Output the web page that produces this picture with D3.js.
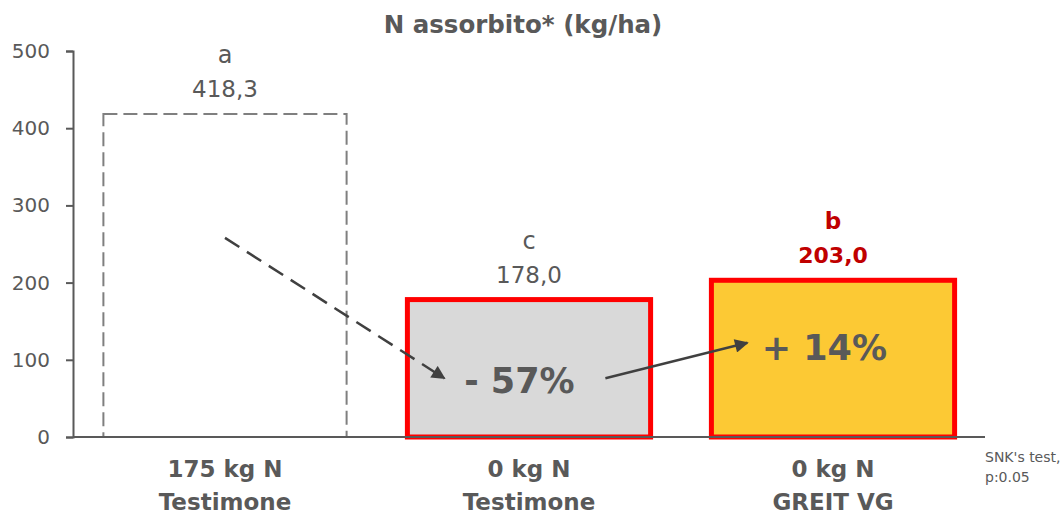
<!DOCTYPE html>
<html>
<head>
<meta charset="utf-8">
<script src="https://cdn.jsdelivr.net/npm/d3@7"></script>
<style>
  body { margin: 0; background: #fff; overflow: hidden; }
  text { font-family: "DejaVu Sans", sans-serif; }
</style>
</head>
<body>
<div id="chart"></div>
<script>
const categories = ["175 kg N|Testimone", "0 kg N|Testimone", "0 kg N|GREIT VG"];
const values = [418.3, 178.0, 203.0];
const valueLabels = ["418,3", "178,0", "203,0"];
const letters = ["a", "c", "b"];
const yTicks = [0, 100, 200, 300, 400, 500];

const width = 1062, height = 516;
const margin = { top: 51, right: 77, bottom: 79, left: 73 };

const svg = d3.select("#chart").append("svg")
  .attr("width", width).attr("height", height)
  .style("display", "block");

const x = d3.scaleBand()
  .domain(categories)
  .range([margin.left, width - margin.right])
  .paddingInner(0.2).paddingOuter(0.1);

const y = d3.scaleLinear()
  .domain([0, 500])
  .range([height - margin.bottom, margin.top]);

const grey = "#595959";

// title
svg.append("text")
  .attr("x", 523).attr("y", 33)
  .attr("text-anchor", "middle")
  .attr("font-size", 24.5).attr("font-weight", "bold")
  .attr("fill", grey)
  .text("N assorbito* (kg/ha)");

// y axis
const yAxis = svg.append("g")
  .attr("transform", `translate(${margin.left},0)`)
  .call(d3.axisLeft(y).tickValues(yTicks).tickSize(7).tickPadding(16));
yAxis.select(".domain").attr("stroke", grey).attr("stroke-width", 2);
yAxis.selectAll(".tick line").attr("stroke", grey).attr("stroke-width", 2);
yAxis.selectAll(".tick text")
  .attr("font-size", 20).attr("fill", grey)
  .attr("font-family", "DejaVu Sans, sans-serif");

// bars
const bars = svg.append("g");
bars.selectAll("rect")
  .data(values)
  .join("rect")
  .attr("x", (d, i) => x(categories[i]))
  .attr("y", d => y(d))
  .attr("width", x.bandwidth())
  .attr("height", d => y(0) - y(d))
  .attr("fill", (d, i) => ["#ffffff", "#d9d9d9", "#fcc934"][i])
  .attr("stroke", (d, i) => i === 0 ? "#7f7f7f" : "#ff0000")
  .attr("stroke-width", (d, i) => i === 0 ? 2 : 5)
  .attr("stroke-dasharray", (d, i) => i === 0 ? "14,6" : null);

// x axis line
svg.append("line")
  .attr("x1", margin.left).attr("x2", width - margin.right)
  .attr("y1", y(0)).attr("y2", y(0))
  .attr("stroke", grey).attr("stroke-width", 2);

// value labels
const labels = svg.append("g");
values.forEach((v, i) => {
  const cx = x(categories[i]) + x.bandwidth() / 2;
  const isLast = i === 2;
  labels.append("text")
    .attr("x", cx).attr("y", y(v) - 51)
    .attr("text-anchor", "middle")
    .attr("font-size", isLast ? 23 : 24)
    .attr("font-weight", isLast ? "bold" : "normal")
    .attr("fill", isLast ? "#c00000" : grey)
    .text(letters[i]);
  labels.append("text")
    .attr("x", cx).attr("y", y(v) - 17)
    .attr("text-anchor", "middle")
    .attr("font-size", isLast ? 22 : 23)
    .attr("font-weight", isLast ? "bold" : "normal")
    .attr("fill", isLast ? "#c00000" : grey)
    .text(valueLabels[i]);
});

// category labels
categories.forEach(c => {
  const cx = x(c) + x.bandwidth() / 2;
  c.split("|").forEach((l, j) => {
    svg.append("text")
      .attr("x", cx).attr("y", y(0) + 40 + j * 33)
      .attr("text-anchor", "middle")
      .attr("font-size", 23).attr("font-weight", "bold")
      .attr("fill", grey)
      .text(l);
  });
});

// arrows
svg.append("defs").append("marker")
  .attr("id", "head")
  .attr("viewBox", "0 0 10 10")
  .attr("refX", 9).attr("refY", 5)
  .attr("markerWidth", 6).attr("markerHeight", 5.5)
  .attr("orient", "auto")
  .append("path").attr("d", "M0,0 L10,5 L0,10 z").attr("fill", "#404040");

const b1 = x(categories[0]), b2 = x(categories[1]), b3 = x(categories[2]);
svg.append("line")
  .attr("x1", b1 + x.bandwidth() / 2).attr("y1", y(258))
  .attr("x2", b2 + 37).attr("y2", y(76))
  .attr("stroke", "#404040").attr("stroke-width", 2.5)
  .attr("stroke-dasharray", "17,9")
  .attr("marker-end", "url(#head)");
svg.append("line")
  .attr("x1", b2 + 198).attr("y1", y(76))
  .attr("x2", b3 + 36).attr("y2", y(122))
  .attr("stroke", "#404040").attr("stroke-width", 2.5)
  .attr("marker-end", "url(#head)");

// percentage labels
svg.append("text")
  .attr("x", b2 + 112).attr("y", y(57))
  .attr("text-anchor", "middle")
  .attr("font-size", 35).attr("font-weight", "bold")
  .attr("fill", grey)
  .text("- 57%");
svg.append("text")
  .attr("x", b3 + 113).attr("y", y(100))
  .attr("text-anchor", "middle")
  .attr("font-size", 35).attr("font-weight", "bold")
  .attr("fill", grey)
  .text("+ 14%");

// footnote
const note = svg.append("text")
  .attr("x", 985).attr("y", 462)
  .attr("font-size", 14).attr("fill", grey);
note.append("tspan").attr("x", 985).text("SNK's test,");
note.append("tspan").attr("x", 985).attr("dy", 20).text("p:0.05");
</script>
</body>
</html>
